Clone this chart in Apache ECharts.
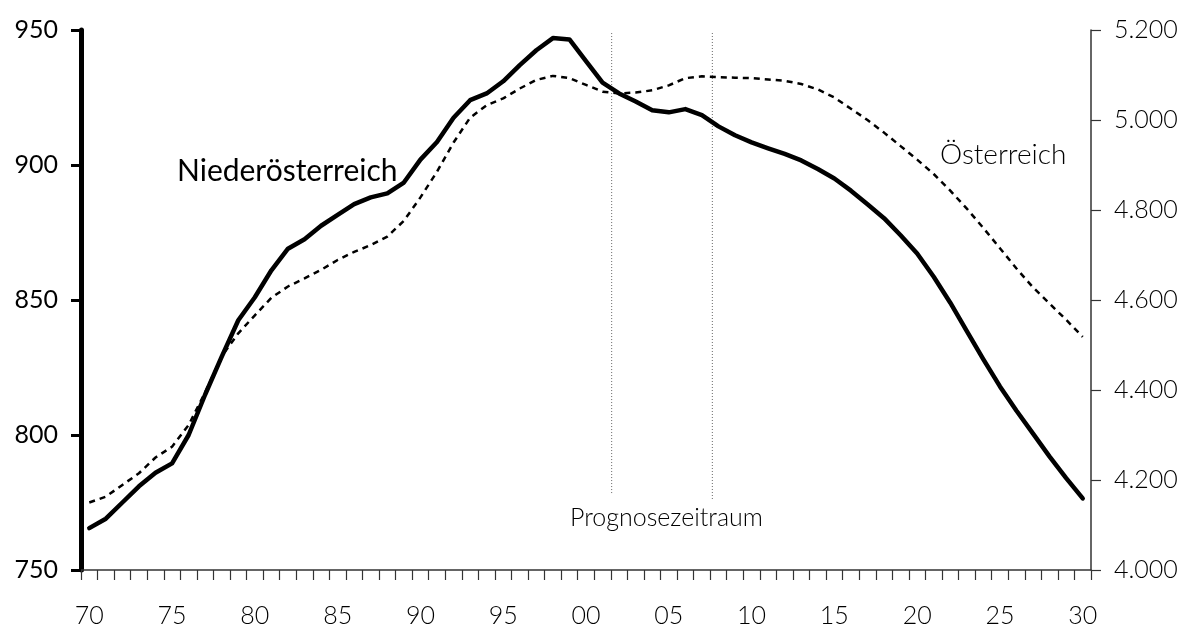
<!DOCTYPE html>
<html>
<head>
<meta charset="utf-8">
<title>Bevölkerung Niederösterreich / Österreich</title>
<script src="https://cdn.jsdelivr.net/npm/echarts@6/dist/echarts.min.js"></script>
<style>
    html, body { margin: 0; padding: 0; background: #fff; }
    #chart { width: 1190px; height: 633px; }
</style>
</head>
<body>
<div id="chart"></div>
<script>
// Jahre 1970 - 2030
const years = [];
for (let y = 1970; y <= 2030; y++) years.push(y);

// Niederösterreich (in 1.000, linke Achse)
const noeValues = [
    765.5, 769, 775, 781, 786, 789.5, 800, 815, 829, 842.5,
    851, 861, 869, 872.5, 877.5, 881.5, 885.5, 888, 889.5, 893.5,
    902, 908.5, 917.5, 924, 926.5, 931, 937, 942.5, 947, 946.5,
    938.5, 930.5, 926.5, 923.5, 920.3, 919.5, 920.7, 918.5, 914.3, 911,
    908.4, 906.2, 904.1, 901.7, 898.5, 895, 890.5, 885.5, 880.3, 874,
    867.2, 858.6, 849, 838.5, 828, 818, 809, 800.5, 792, 784,
    776.5
];

// Österreich (in 1.000, rechte Achse)
const oeValues = [
    4150, 4163, 4189, 4215, 4250, 4274, 4322, 4395, 4475, 4526,
    4566, 4605, 4630, 4648, 4667, 4689, 4707, 4722, 4741, 4776,
    4828, 4885, 4950, 5005, 5033, 5048, 5070, 5089, 5098, 5093,
    5078, 5063, 5059, 5061, 5066, 5077, 5093, 5097, 5095, 5094,
    5093, 5090, 5087, 5080, 5068, 5050, 5025, 5000, 4972, 4942,
    4912, 4880, 4843, 4803, 4760, 4715, 4670, 4628, 4592, 4556,
    4518
];

// Prognosezeitraum: Position (Jahr) und Höhe der beiden Markierungslinien
const forecastYears = [2001.55, 2007.63];
const forecastBottoms = [778.5, 776.3];
const forecastTop = 949;

const leftTicks = { min: 750, max: 950, step: 50 };
const rightTicks = { min: 4000, max: 5200, step: 200 };

const font = 'Lato, "Open Sans", "Noto Sans", sans-serif';

const myChart = echarts.init(document.getElementById('chart'), null, {renderer: 'canvas'});

// senkrechte Linien für den Prognosezeitraum
const forecastSeries = forecastYears.map(function (yr, i) {
    return {
        type: 'line',
        xAxisIndex: 1,
        yAxisIndex: 0,
        silent: true,
        showSymbol: false,
        data: [[yr, forecastBottoms[i]], [yr, forecastTop]],
        lineStyle: {color: '#666', width: 1, type: [1, 2]},
        z: 1
    };
});

myChart.setOption({
    animation: false,
    backgroundColor: '#fff',
    grid: {left: 81, right: 99, top: 30, bottom: 63},
    xAxis: [{
        type: 'category',
        data: years,
        boundaryGap: true,
        axisLine: {lineStyle: {color: '#333', width: 1.5}},
        axisTick: {show: true, interval: 0, length: 10, lineStyle: {color: '#333', width: 1.2}},
        axisLabel: {
            interval: 4,
            margin: 33,
            fontSize: 25,
            fontFamily: font,
            fontWeight: 300,
            color: '#000',
            formatter: function (v) { return String(v % 100).padStart(2, '0'); }
        },
        splitLine: {show: false}
    }, {
        type: 'value',
        min: 1969.5,
        max: 2030.5,
        show: false
    }],
    yAxis: [{
        type: 'value',
        position: 'left',
        min: leftTicks.min,
        max: leftTicks.max,
        interval: leftTicks.step,
        axisLine: {show: true, lineStyle: {color: '#000', width: 5}},
        axisTick: {show: true, length: 10, lineStyle: {color: '#000', width: 3}},
        axisLabel: {margin: 23, fontSize: 25, fontFamily: font, color: '#000'},
        splitLine: {show: false}
    }, {
        type: 'value',
        position: 'right',
        min: rightTicks.min,
        max: rightTicks.max,
        interval: rightTicks.step,
        axisLine: {show: true, lineStyle: {color: '#333', width: 1.5}},
        axisTick: {show: true, length: 10, lineStyle: {color: '#333', width: 1.2}},
        axisLabel: {
            margin: 23,
            fontSize: 25,
            fontFamily: font,
            fontWeight: 300,
            color: '#000',
            formatter: function (v) { return (v / 1000).toFixed(3); }
        },
        splitLine: {show: false}
    }],
    series: [{
        name: 'Österreich',
        type: 'line',
        yAxisIndex: 1,
        data: oeValues,
        showSymbol: false,
        lineStyle: {color: '#000', width: 2.5, type: [6, 5]},
        z: 2
    }, {
        name: 'Niederösterreich',
        type: 'line',
        yAxisIndex: 0,
        data: noeValues,
        showSymbol: false,
        lineStyle: {color: '#000', width: 4.5, join: 'round', cap: 'round'},
        z: 3
    }].concat(forecastSeries),
    graphic: [{
        type: 'text',
        left: 177,
        top: 156,
        style: {text: 'Niederösterreich', font: '400 30px ' + font, fill: '#000'}
    }, {
        type: 'text',
        left: 940,
        top: 141,
        style: {text: 'Österreich', font: '300 28px ' + font, fill: '#000'}
    }, {
        type: 'text',
        left: 570,
        top: 505,
        style: {text: 'Prognosezeitraum', font: '300 25px ' + font, fill: '#000'}
    }]
});
</script>
</body>
</html>
